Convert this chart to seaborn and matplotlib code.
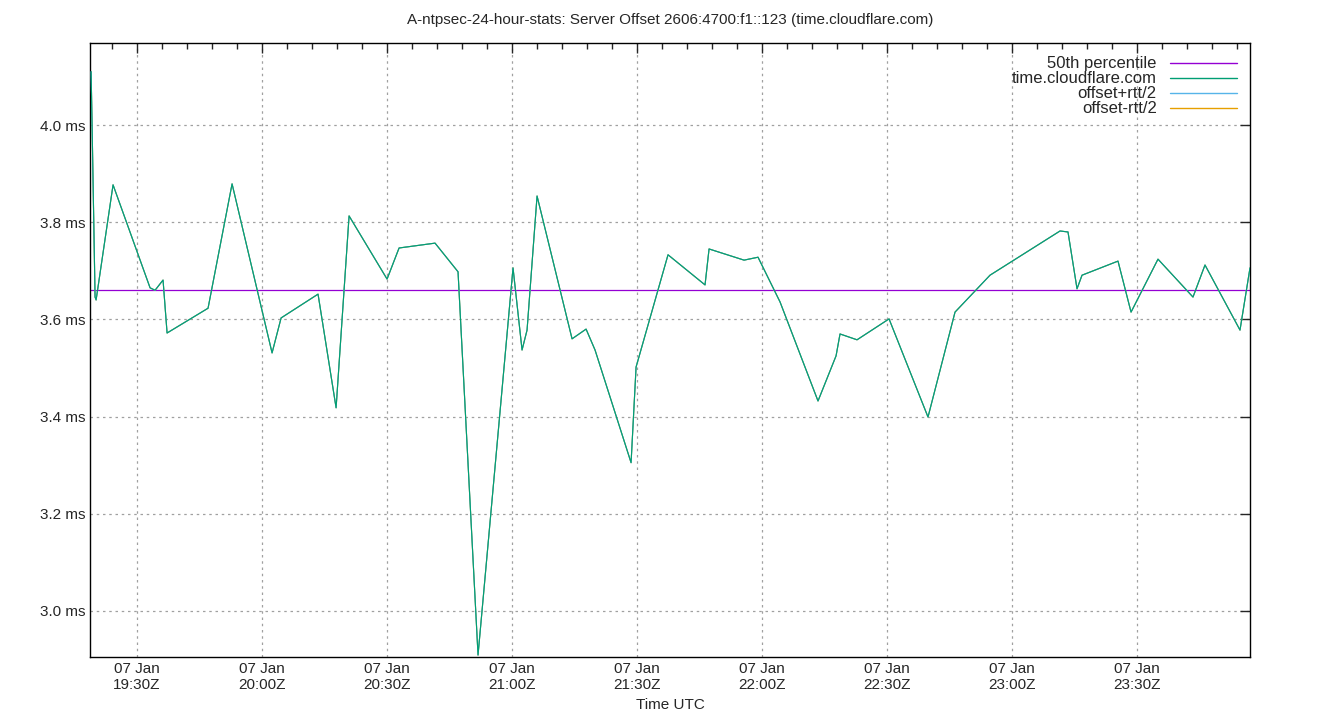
import matplotlib
matplotlib.use("Agg")
import matplotlib.pyplot as plt
import matplotlib.dates as mdates
import seaborn as sns
import pandas as pd
from matplotlib.lines import Line2D

times = ["19:18:58","19:19:12","19:19:55","19:20:10","19:24:14","19:33:07","19:34:19","19:36:14","19:37:12",
"19:47:02","19:52:48","20:02:24","20:04:34","20:13:26","20:17:46","20:20:53","20:30:00","20:32:53","20:41:31",
"20:47:02","20:51:50","21:00:14","21:02:24","21:03:36","21:06:00","21:14:24","21:17:46","21:19:55","21:28:34",
"21:29:46","21:37:26","21:46:19","21:47:17","21:55:41","21:59:02","22:04:19","22:13:26","22:17:46","22:18:43",
"22:22:48","22:30:29","22:39:50","22:46:19","22:54:43","23:11:31","23:13:26","23:15:36","23:16:48","23:25:26",
"23:28:34","23:35:02","23:43:26","23:46:19","23:54:43","23:57:07"]
offset_ms = [4.11,4.00,3.646,3.640,3.877,3.665,3.660,3.681,3.572,
3.623,3.879,3.531,3.603,3.652,3.418,3.813,3.683,3.747,3.757,
3.698,2.909,3.706,3.537,3.578,3.854,3.560,3.580,3.537,3.305,
3.502,3.733,3.671,3.745,3.722,3.728,3.636,3.432,3.525,3.570,
3.558,3.601,3.399,3.615,3.691,3.782,3.780,3.663,3.691,3.720,
3.615,3.724,3.646,3.712,3.578,3.706]
percentile50 = 3.660
labels = ["50th percentile", "time.cloudflare.com", "offset+rtt/2", "offset-rtt/2"]

sns.set_style("white")
plt.rcParams['font.family'] = ['Liberation Sans', 'DejaVu Sans']
df = pd.DataFrame({"t": pd.to_datetime(["2025-01-07 " + s for s in times]), "v": offset_ms})

fig = plt.figure(figsize=(13.4, 7.2), dpi=100)
ax = fig.add_axes([90/1340, 63/720, 1160/1340, 614/720])
ax.axhline(percentile50, color="#9400d3", lw=0.9)
sns.lineplot(data=df, x="t", y="v", ax=ax, color="#e69f00", lw=0.8, zorder=2)
sns.lineplot(data=df, x="t", y="v", ax=ax, color="#56b4e9", lw=0.8, zorder=3)
sns.lineplot(data=df, x="t", y="v", ax=ax, color="#009e73", lw=0.8, zorder=4)
hs = [Line2D([], [], color=c, lw=1) for c in ["#9400d3", "#009e73", "#56b4e9", "#e69f00"]]
leg = ax.legend(hs, labels, loc="upper right", frameon=False, fontsize=12, markerfirst=False,
                handlelength=4.0, labelspacing=0.0, borderaxespad=0.4)
for t in leg.get_texts():
    t.set_ha("right")
leg._legend_box.align = "right"

ax.set_xlim(pd.Timestamp("2025-01-07 19:18:42"), pd.Timestamp("2025-01-07 23:57:07"))
ax.set_ylim(2.905, 4.169)
ax.xaxis.set_major_locator(mdates.MinuteLocator(byminute=[0, 30]))
ax.xaxis.set_major_formatter(mdates.DateFormatter("%d %b\n%H:%MZ"))
ax.xaxis.set_minor_locator(mdates.MinuteLocator(byminute=range(0, 60, 6)))
ax.set_yticks([3.0, 3.2, 3.4, 3.6, 3.8, 4.0])
ax.set_yticklabels([f"{v:.1f} ms" for v in [3.0, 3.2, 3.4, 3.6, 3.8, 4.0]])
ax.tick_params(which="both", direction="in", top=True, right=True, labelsize=11, width=1)
ax.tick_params(which="major", length=7)
ax.tick_params(which="minor", length=4)
ax.grid(True, which="major", color="#a0a0a0", ls=(0, (2, 3)), lw=0.9)
for s in ax.spines.values():
    s.set_color("black"); s.set_linewidth(1)
ax.set_xlabel("Time UTC", fontsize=11, labelpad=4)
ax.set_ylabel("")
ax.set_title("A-ntpsec-24-hour-stats: Server Offset 2606:4700:f1::123 (time.cloudflare.com)", fontsize=11, pad=14)
fig.savefig("out.png", dpi=100)
